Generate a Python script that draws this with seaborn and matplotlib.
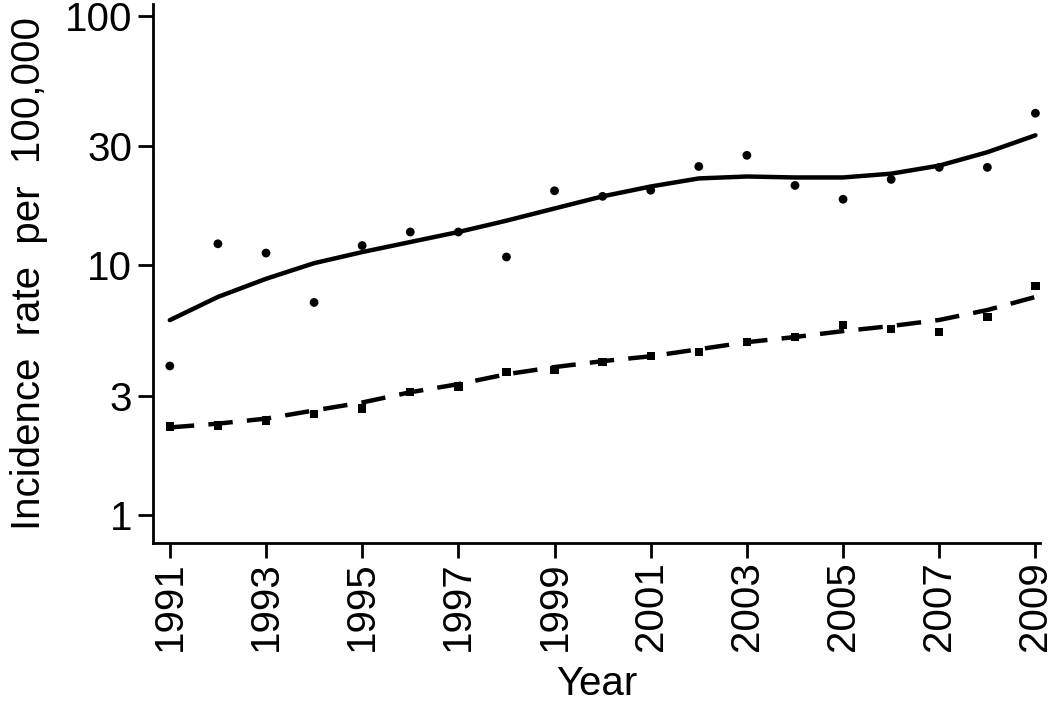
import matplotlib

matplotlib.use("Agg")
import matplotlib.pyplot as plt
import pandas as pd
import seaborn as sns

years = list(range(1991, 2010))

# observed rates (circles and squares)
rate_high = [3.95, 12.2, 11.2, 7.1, 12.0, 13.6, 13.6, 10.8, 19.9, 18.9,
             20.0, 24.9, 27.6, 20.9, 18.4, 22.1, 24.7, 24.7, 40.7]
rate_low = [2.26, 2.28, 2.39, 2.53, 2.67, 3.10, 3.27, 3.73, 3.80, 4.10,
            4.32, 4.49, 4.92, 5.16, 5.76, 5.55, 5.40, 6.21, 8.27]

# smoothed trends
trend_high = [6.03, 7.47, 8.83, 10.2, 11.3, 12.4, 13.6, 15.1, 16.9, 18.9,
              20.7, 22.3, 22.7, 22.5, 22.5, 23.3, 25.1, 28.4, 33.2]
trend_low = [2.24, 2.32, 2.43, 2.62, 2.82, 3.10, 3.34, 3.66, 3.91, 4.13,
             4.32, 4.61, 4.92, 5.16, 5.45, 5.71, 6.04, 6.62, 7.47]

y_ticks = [1, 3, 10, 30, 100]
x_ticks = list(range(1991, 2010, 2))

df = pd.DataFrame({
    "Year": years,
    "rate_high": rate_high,
    "rate_low": rate_low,
    "trend_high": trend_high,
    "trend_low": trend_low,
})


def main() -> None:
    sns.set_theme(style="ticks")
    plt.rcParams["font.family"] = ["Liberation Sans", "DejaVu Sans"]

    fig = plt.figure(figsize=(10.5, 7.1), dpi=100)
    ax = fig.add_axes([0.1457, 0.235, 0.845, 0.76])

    sns.lineplot(data=df, x="Year", y="trend_high", color="black", linewidth=3.2, ax=ax)
    sns.lineplot(data=df, x="Year", y="trend_low", color="black", linewidth=3.2,
                 dashes=False, ax=ax)
    ax.lines[-1].set_dashes([5.5, 3.2])
    sns.scatterplot(data=df, x="Year", y="rate_high", color="black", marker="o",
                    s=40, edgecolor="none", ax=ax)
    sns.scatterplot(data=df, x="Year", y="rate_low", color="black", marker="s",
                    s=36, edgecolor="none", ax=ax)

    ax.set_yscale("log")
    ax.set_ylim(0.77, 112)
    ax.set_xlim(1990.65, 2009.1)
    ax.set_yticks(y_ticks)
    ax.set_yticklabels([str(t) for t in y_ticks])
    ax.minorticks_off()
    ax.set_xticks(x_ticks)
    ax.set_xticklabels([str(t) for t in x_ticks], rotation=90)

    ax.tick_params(axis="both", labelsize=29, width=2, length=11, color="black",
                   labelcolor="black")
    ax.tick_params(axis="x", pad=2)
    ax.tick_params(axis="y", pad=4)
    for side in ["left", "bottom"]:
        ax.spines[side].set_linewidth(2)
        ax.spines[side].set_color("black")
    sns.despine(ax=ax)

    ax.set_xlabel("Year", fontsize=29, labelpad=10, color="black")
    ax.set_ylabel("Incidence  rate  per  100,000", fontsize=29, labelpad=12,
                  color="black")

    fig.savefig("out.png", dpi=100)
    plt.close(fig)


if __name__ == "__main__":
    main()
